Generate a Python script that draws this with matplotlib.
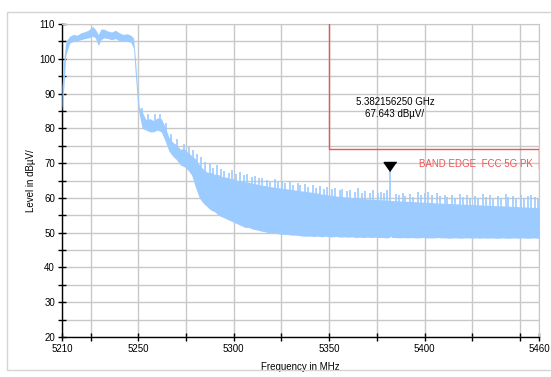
import matplotlib
matplotlib.use('Agg')
import matplotlib.pyplot as plt
import numpy as np
from matplotlib.patches import Rectangle

plt.rcParams['font.family'] = ['Liberation Sans', 'DejaVu Sans']

# spectrum trace: dense body read as upper / lower level per frequency
freq = [5210, 5211, 5212, 5214, 5216, 5218, 5220, 5222, 5224, 5226, 5227.5, 5229, 5230.5,
        5232, 5234, 5236, 5238, 5240, 5242, 5244, 5246, 5247.5, 5248.5, 5249.5, 5250.5,
        5252, 5254, 5256, 5258, 5260, 5262, 5264, 5266, 5268, 5270, 5272, 5274, 5276,
        5278, 5280, 5282, 5284, 5286, 5288, 5290, 5292, 5294, 5296, 5298, 5300,
        5302, 5304, 5306, 5308, 5310, 5312, 5314, 5316, 5318, 5320, 5322, 5324, 5326,
        5328, 5330, 5332, 5334, 5336, 5338, 5340, 5342, 5344, 5346, 5348, 5350,
        5352, 5354, 5356, 5358, 5360, 5362, 5364, 5366, 5368, 5370, 5372, 5374, 5376,
        5378, 5380, 5381.5, 5382.16, 5383, 5385, 5387, 5389, 5391, 5393, 5395, 5397, 5399,
        5401, 5403, 5405, 5407, 5409, 5411, 5413, 5415, 5417, 5419, 5421, 5423, 5425,
        5427, 5429, 5431, 5433, 5435, 5437, 5439, 5441, 5443, 5445, 5447, 5449, 5451,
        5453, 5455, 5457, 5459, 5460]
level_hi = [92, 100, 105, 106.5, 107, 106.8, 107.5, 107.8, 108.3, 109.3, 108.5, 107, 108.6,
            108.5, 108, 107.7, 108.2, 107.5, 107, 107.2, 106.8, 106, 100, 92, 86,
            84.8, 82.5, 82.8, 82.2, 83, 82.8, 80.5, 77.5, 76, 75.3, 74, 74.2, 73,
            72.2, 71.2, 69.5, 68.3, 67.4, 67.3, 66.8, 66.7, 66.1, 66, 65.6, 65.5,
            65, 64.9, 64.6, 64.5, 64.1, 64, 63.7, 63.6, 63.3, 63.2, 63, 62.9, 62.7,
            62.6, 62.4, 62.3, 62.1, 62, 61.8, 61.7, 61.5, 61.4, 61.1, 61, 60.8,
            60.7, 60.5, 60.4, 60.3, 60.2, 60.1, 60, 59.9, 59.8, 59.7, 59.6, 59.6, 59.5,
            59.4, 59.4, 59.3, 59.3, 59.2, 59.2, 59.1, 59.1, 59, 59, 58.9, 58.8, 58.8,
            58.7, 58.7, 58.6, 58.5, 58.5, 58.4, 58.4, 58.3, 58.3, 58.2, 58.2, 58.1, 58.1,
            58, 58, 57.9, 57.9, 57.8, 57.8, 57.7, 57.7, 57.6, 57.6, 57.5, 57.5, 57.4,
            57.4, 57.3, 57.3, 57.2, 57.2]
level_lo = [85, 92, 101, 104.5, 105, 105.2, 105.5, 105.8, 106, 106.5, 106, 103.8, 105.5,
            106, 105.8, 105.5, 105.8, 105.2, 105.3, 105, 104.8, 103, 95, 88, 84,
            80, 79.5, 79, 79, 79.5, 79, 76.5, 73.5, 72, 71, 69.5, 69, 68,
            66.5, 63, 60, 58.5, 57.5, 56.5, 56, 55, 54.5, 54, 53.5, 53,
            52.5, 52, 51.5, 51.5, 51, 50.8, 50.5, 50.3, 50, 50, 49.8, 49.6, 49.5,
            49.5, 49.3, 49.3, 49.2, 49, 49, 49, 48.9, 49, 48.8, 49, 48.8,
            48.8, 48.9, 48.7, 48.8, 48.7, 48.8, 48.6, 48.7, 48.6, 48.7, 48.6, 48.7, 48.6,
            48.6, 48.5, 48.6, 49, 48.6, 48.6, 48.5, 48.6, 48.5, 48.6, 48.5, 48.5, 48.6,
            48.5, 48.5, 48.5, 48.6, 48.5, 48.5, 48.4, 48.5, 48.5, 48.4, 48.5, 48.5, 48.4,
            48.5, 48.4, 48.5, 48.4, 48.5, 48.4, 48.4, 48.5, 48.4, 48.4, 48.5, 48.4, 48.5,
            48.4, 48.4, 48.5, 48.4, 48.5]

# single peaks sticking out of the noise body
spike_freq = [5252, 5255, 5259, 5261.5, 5264.5, 5267, 5270.5, 5274, 5276.5, 5278.5, 5281,
              5283, 5285, 5287.5, 5289, 5291, 5293.5, 5295, 5297.5, 5299, 5301, 5303.5,
              5305.5, 5307, 5309.5, 5311, 5313.5, 5315, 5317.5, 5319, 5321.5, 5323, 5325.5,
              5327, 5329.5, 5331, 5333.5, 5335, 5337.5, 5339, 5341.5, 5343, 5345, 5347.5,
              5349, 5351.5, 5353, 5355.5, 5357, 5359.5, 5361, 5363.5, 5365, 5367.5, 5369,
              5371.5, 5373, 5375.5, 5377, 5379, 5380.5, 5382.16, 5385, 5386.5, 5388.5, 5390,
              5392.5, 5394, 5396.5, 5398, 5400.5, 5402, 5404, 5406.5, 5408, 5410.5, 5412,
              5414.5, 5416, 5418.5, 5420, 5422.5, 5424, 5426.5, 5428, 5430.5, 5432, 5434.5,
              5436, 5438.5, 5440, 5442.5, 5444, 5446.5, 5448, 5450.5, 5452, 5454.5, 5456,
              5458, 5459.5]
spike_top = [85.8, 84, 84.2, 84, 81.5, 78.5, 76.8, 75.5, 74.5, 73.8, 72.5,
             71.8, 70.2, 69.8, 68.5, 69.5, 68.2, 67.8, 67.2, 68, 66.8, 67.5,
             66.5, 66.9, 66, 66.3, 65.6, 65.8, 65.2, 64.6, 65.3, 64.5, 64.8,
             64.2, 64.9, 63.8, 64.4, 63.7, 64, 63.2, 63.8, 62.8, 63.5, 62.7,
             63.1, 62.5, 62.9, 62.2, 62.7, 61.9, 62.4, 61.6, 62.8, 61.5, 62,
             61.4, 62.4, 61.3, 61.8, 61.5, 62.2, 67.6, 61.2, 60.8, 61.5, 60.6,
             61.2, 60.4, 61.6, 60.9, 61.4, 61.8, 60.7, 61.5, 60.5, 60.9, 60.2,
             60.7, 60.1, 61, 60.4, 60.8, 60, 60.6, 59.9, 61, 60.2, 60.7,
             59.8, 60.5, 59.9, 61.2, 60.3, 60.6, 59.8, 60.9, 60.1, 60.6, 60.9,
             60.3, 59.8]

# limit line
limit_freq = [5350, 5350, 5460, 5460]
limit_level = [110, 74, 74, 68.5]
limit_name = 'BAND EDGE  FCC 5G PK'

# marker
marker_freq = 5382.15625
marker_level = 67.643
marker_text = '5.382156250 GHz\n67.643 dBµV/'

xtick_major = [5210, 5250, 5300, 5350, 5400, 5460]
xtick_minor = [5225, 5275, 5325, 5375, 5425, 5450]
ytick_major = [20, 30, 40, 50, 60, 70, 80, 90, 100, 110]
ytick_minor = [25, 35, 45, 55, 65, 75, 85, 95, 105]

trace_color = '#9ccbff'
red = '#f05454'

fig = plt.figure(figsize=(5.51, 3.77), dpi=100)
# light outer frame
fig.patches.append(Rectangle((0.0127, 0.0186), 1.2, 0.9497, transform=fig.transFigure,
                             fill=False, edgecolor='#d4d4d4', linewidth=1))
ax = fig.add_axes([0.1125, 0.1061, 0.8657, 0.8302])

ax.fill_between(freq, level_lo, level_hi, color=trace_color, linewidth=0, zorder=3)
spike_base = np.interp(spike_freq, freq, level_hi) - 1
ax.vlines(spike_freq, spike_base, spike_top, color=trace_color, linewidth=1.2, zorder=3)

ax.plot(limit_freq, limit_level, color=red, linewidth=1, zorder=4)
ax.text(5397, 69.7, limit_name, color=red, fontsize=7, va='center', ha='left', zorder=5)

tri = [(0, 0), (-0.7, 1), (0.7, 1)]
ax.plot([marker_freq], [marker_level], marker=tri, markersize=13, color='black',
        linestyle='none', zorder=6)
ax.text(5384.5, 85.9, marker_text, fontsize=7, ha='center', va='center', linespacing=1.25)

ax.set_xlim(5210, 5460)
ax.set_ylim(20, 110)
ax.set_xticks(xtick_major)
ax.set_xticks(xtick_minor, minor=True)
ax.set_yticks(ytick_major)
ax.set_yticks(ytick_minor, minor=True)
ax.tick_params(which='both', direction='inout', length=6, width=1, color='black',
               labelsize=7, pad=2)
ax.grid(which='both', color='#c8c8c8', linewidth=1, zorder=0)
ax.set_axisbelow(True)

for side in ['top', 'right']:
    ax.spines[side].set_color('#c8c8c8')
for side in ['left', 'bottom']:
    ax.spines[side].set_color('black')
    ax.spines[side].set_linewidth(1)

ax.set_xlabel('Frequency in MHz', fontsize=7, labelpad=6)
ax.set_ylabel('Level in dBµV/', fontsize=7, labelpad=2)

fig.savefig('out.png', dpi=100)
